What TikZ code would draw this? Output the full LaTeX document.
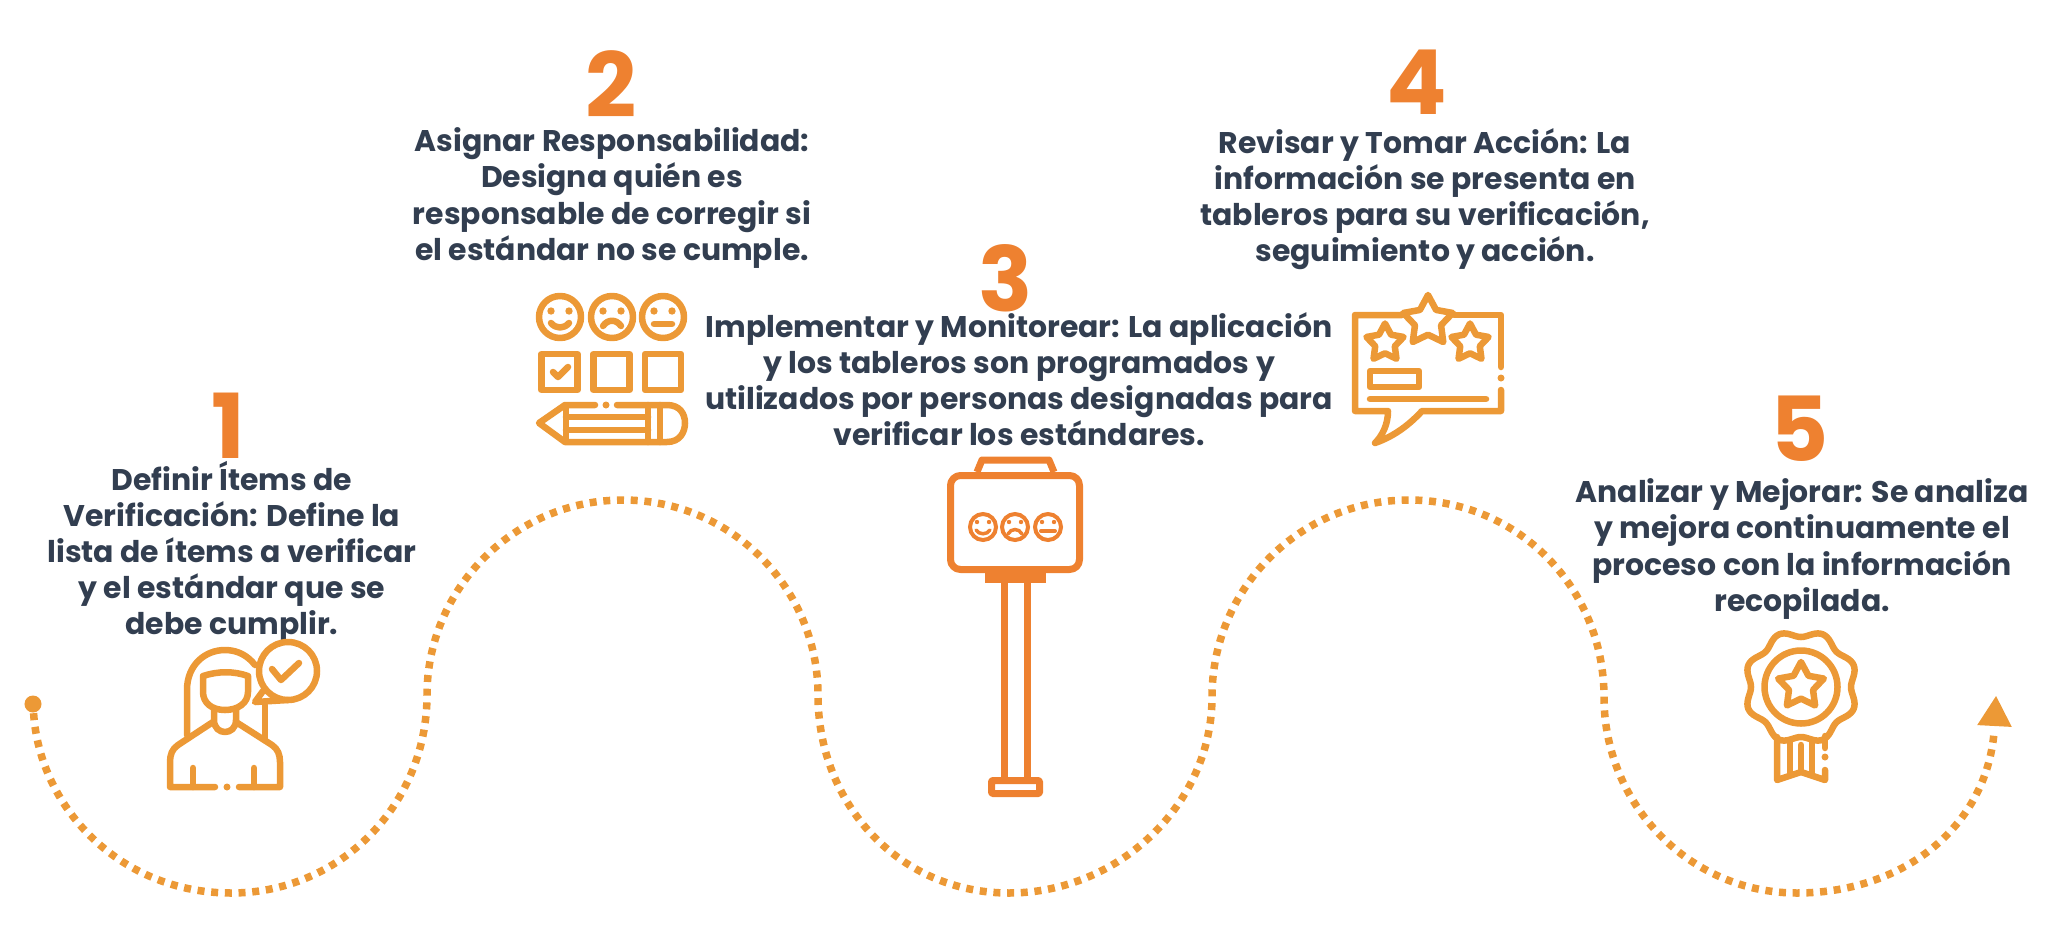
\documentclass[tikz,border=0pt]{standalone}
\usepackage{fontspec}
\setmainfont{Poppins}
\usetikzlibrary{shapes.geometric}
\definecolor{stepdark}{HTML}{323E50}
\definecolor{steporange}{HTML}{EE8130}
\definecolor{iconorange}{HTML}{EC9936}
\begin{document}
\begin{tikzpicture}[x=0.01cm,y=-0.01cm]
            \tikzstyle{steptext}=[align=center, inner sep=0pt, text=stepdark, font=\fontsize{8.5}{10.25}\selectfont\bfseries]
            \tikzstyle{stepnum}=[inner sep=0pt, text=steporange, font=\fontsize{25.5}{25.5}\selectfont\bfseries]
            \tikzstyle{icon}=[iconorange, line width=0.65mm, line cap=round, line join=round]
            \tikzstyle{post}=[steporange, line width=0.7mm, line join=round]
            \tikzstyle{starnode}=[star, star points=5, star point ratio=1.9, draw=iconorange, line width=0.65mm, line join=round, inner sep=0pt]
            \tikzstyle{road}=[iconorange, line width=0.75mm, dash pattern=on 0.7mm off 0.67mm]

            \useasboundingbox (0,0) rectangle (2048,939);

            \node[stepnum] (n1) at (228,426) {1};
            \node[stepnum] (n2) at (611,84) {2};
            \node[stepnum] (n3) at (1006,278) {3};
            \node[stepnum] (n4) at (1417,82) {4};
            \node[stepnum] (n5) at (1800,429) {5};

            \node[steptext] (t1) at (232,552) {Definir Ítems de\\Verificación: Define la\\lista de ítems a verificar\\y el estándar que se\\debe cumplir.};
            \node[steptext] (t2) at (612,198) {Asignar Responsabilidad:\\Designa quién es\\responsable de corregir si\\el estándar no se cumple.};
            \node[steptext] (t3) at (1019,379) {Implementar y Monitorear: La aplicación\\y los tableros son programados y\\utilizados por personas designadas para\\verificar los estándares.};
            \node[steptext] (t4) at (1425,199) {Revisar y Tomar Acción: La\\información se presenta en\\tableros para su verificación,\\seguimiento y acción.};
            \node[steptext] (t5) at (1802,549) {Analizar y Mejorar: Se analiza\\y mejora continuamente el\\proceso con la información\\recopilada.};

            \node[circle, fill=iconorange, inner sep=0pt, minimum size=1.7mm] (start) at (33,704) {};
            \node[regular polygon, regular polygon sides=3, fill=iconorange, inner sep=0pt, minimum size=4mm, rotate=-3] (tip) at (1995,716) {};
            \coordinate (a) at (231,893);
            \coordinate (b) at (427,695);
            \coordinate (c) at (623,500);
            \coordinate (d) at (818,695);
            \coordinate (e) at (1009,893);
            \coordinate (f) at (1212,697);
            \coordinate (g) at (1409,500);
            \coordinate (h) at (1604,697);
            \coordinate (i) at (1797,893);
            \coordinate (j) at (1994,733);

            \draw[road] (start) .. controls (40,810) and (122,893) .. (a)
                .. controls (340,893) and (427,805) .. (b)
                .. controls (427,588) and (515,500) .. (c)
                .. controls (731,500) and (818,588) .. (d)
                .. controls (818,805) and (900,893) .. (e)
                .. controls (1118,893) and (1212,805) .. (f)
                .. controls (1212,588) and (1300,500) .. (g)
                .. controls (1518,500) and (1604,588) .. (h)
                .. controls (1604,805) and (1690,893) .. (i)
                .. controls (1900,893) and (1985,830) .. (j);

            % person
            \draw[icon] (187,735) -- (187,690) .. controls (187,665) and (205,650) .. (225,650) .. controls (238,650) and (248,656) .. (255,665);
            \draw[icon] (203,676) .. controls (218,671) and (234,671) .. (248,676) -- (248,692) .. controls (248,703) and (238,710) .. (225,710) .. controls (212,710) and (203,703) .. (203,692) -- cycle;
            \draw[icon] (214,710) -- (214,720) .. controls (214,736) and (236,736) .. (236,720) -- (236,710);
            \draw[icon] (213,722) -- (178,745) .. controls (172,749) and (170,755) .. (170,762) -- (170,787) -- (215,787);
            \draw[icon] (236,722) -- (272,745) .. controls (278,749) and (280,755) .. (280,762) -- (280,787) -- (239,787);
            \draw[icon] (193,768) -- (193,787);
            \draw[icon] (254,768) -- (254,787);
            \fill[iconorange] (227,787) circle[radius=3.5];
            \draw[icon] (265,705) -- (265,740);
            \draw[icon] (288,671) circle[radius=29];
            \draw[icon] (288,700) -- (255,702) -- (263,691);
            \draw[icon] (272,669) -- (281,680) -- (299,663);

            % faces, boxes, pencil
            \foreach \x in {560,612,663} {
                \draw[icon] (\x,317) circle[radius=21];
                \fill[iconorange] (\x-9,311) circle[radius=3.7];
                \fill[iconorange] (\x+9,311) circle[radius=3.7];
            }
            \draw[icon] (551,323) .. controls (556,329) and (564,329) .. (569,323);
            \draw[icon] (603,326) .. controls (608,319) and (616,319) .. (621,326);
            \draw[icon] (654,324) -- (672,324);
            \foreach \x in {541.5,593.5,645} {
                \draw[icon] (\x,354) rectangle (\x+36,390);
            }
            \draw[icon] (553,372) -- (558,377) -- (568,367);
            \draw[icon] (595,405) -- (565,405) -- (539,423) -- (565,442) -- (667,442) .. controls (680,442) and (685,432) .. (685,423) .. controls (685,414) and (680,405) .. (667,405) -- (617,405);
            \fill[iconorange] (606,405) circle[radius=3.5];
            \draw[icon] (566,408) -- (566,439);
            \draw[icon] (566,417) -- (648,417);
            \draw[icon] (566,430) -- (648,430);
            \draw[icon] (648,405) -- (648,442);
            \draw[icon] (660,405) -- (660,442);

            % sign post
            \draw[post] (977,472) -- (982,460) -- (1049,460) -- (1054,472);
            \draw[post, rounded corners=1mm] (950.5,475.5) rectangle (1079.5,569.5);
            \fill[steporange] (985,567) rectangle (1046,583);
            \draw[post] (1004,583) -- (1004,778);
            \draw[post] (1027,583) -- (1027,778);
            \draw[post, rounded corners=0.1mm] (991.5,780.5) rectangle (1039.5,793.5);
            \foreach \x in {983,1015,1048} {
                \draw[steporange, line width=0.4mm] (\x,527) circle[radius=13];
                \fill[steporange] (\x-6,522) circle[radius=2.2];
                \fill[steporange] (\x+6,522) circle[radius=2.2];
            }
            \draw[steporange, line width=0.35mm, line cap=round] (976,530) .. controls (979,535) and (987,535) .. (990,530);
            \draw[steporange, line width=0.35mm, line cap=round] (1008,534) .. controls (1011,528) and (1019,528) .. (1022,534);
            \draw[steporange, line width=0.4mm, line cap=round] (1041,531) -- (1055,531);

            % comment box with stars
            \node[starnode, minimum size=5.2mm] (s1) at (1428,321) {};
            \node[starnode, minimum size=3.9mm] (s2) at (1385,343) {};
            \node[starnode, minimum size=3.9mm] (s3) at (1470,343) {};
            \draw[icon] (1402,315) -- (1355,315) -- (1355,411) -- (1388,411) .. controls (1388,425) and (1382,436) .. (1375,443) .. controls (1395,436) and (1410,424) .. (1422,411) -- (1501,411) -- (1501,390);
            \draw[icon] (1454,315) -- (1501,315) -- (1501,367);
            \fill[iconorange] (1501,378) circle[radius=3.5];
            \draw[icon] (1370,371) rectangle (1419,387);
            \draw[icon] (1370,399) -- (1486,399);

            % rosette
            \draw[icon] plot[domain=0:360, samples=145, smooth cycle] ({1801+(53.5+3.5*cos(8*\x))*cos(\x+22.5)},{687+(53.5+3.5*cos(8*\x))*sin(\x+22.5)});
            \draw[icon] (1801,687) circle[radius=36.5];
            \node[starnode, minimum size=4.8mm] (s4) at (1801,686) {};
            \draw[icon] (1777,737) -- (1777,780) -- (1801,772) -- (1825,780) -- (1825,770);
            \draw[icon] (1825,748) -- (1825,736);
            \fill[iconorange] (1825,757) circle[radius=3.5];
            \draw[icon] (1790,742) -- (1790,774);
            \draw[icon] (1801,745) -- (1801,772);
            \draw[icon] (1812,742) -- (1812,774);
\end{tikzpicture}
\end{document}
